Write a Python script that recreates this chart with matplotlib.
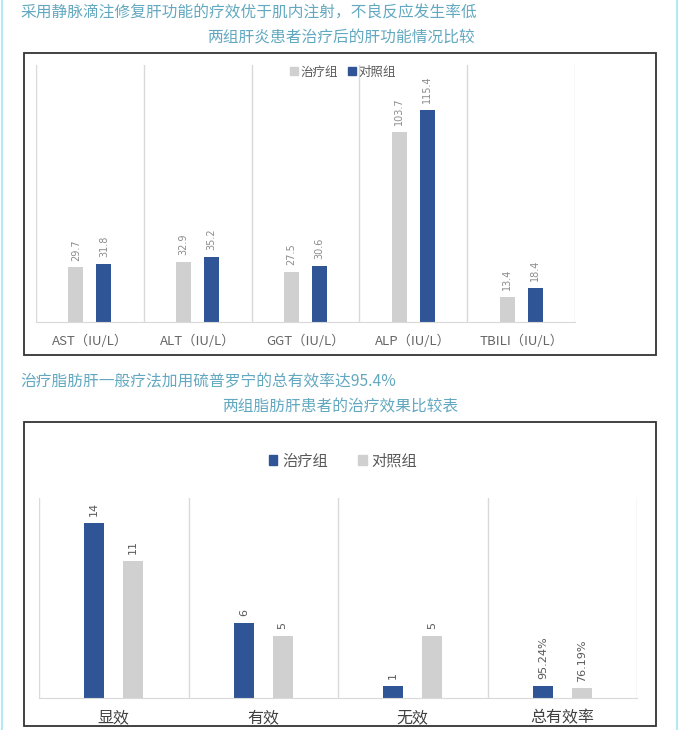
import matplotlib
matplotlib.use('Agg')
import matplotlib.pyplot as plt
from matplotlib.patches import Rectangle
from matplotlib.lines import Line2D

W, H = 681, 730
plt.rcParams['font.family'] = ['Noto Sans CJK SC', 'DejaVu Sans']

# ---------------- data ----------------
title1_a = "采用静脉滴注修复肝功能的疗效优于肌内注射，不良反应发生率低"
title1_b = "两组肝炎患者治疗后的肝功能情况比较"
liver_categories = ["AST（IU/L）", "ALT（IU/L）", "GGT（IU/L）", "ALP（IU/L）", "TBILI（IU/L）"]
liver_treat = [29.7, 32.9, 27.5, 103.7, 13.4]
liver_ctrl = [31.8, 35.2, 30.6, 115.4, 18.4]

title2_a = "治疗脂肪肝一般疗法加用硫普罗宁的总有效率达95.4%"
title2_b = "两组脂肪肝患者的治疗效果比较表"
fatty_categories = ["显效", "有效", "无效", "总有效率"]
fatty_treat = [14, 6, 1, 0.9524]
fatty_ctrl = [11, 5, 5, 0.7619]
fatty_treat_labels = ["14", "6", "1", "95.24%"]
fatty_ctrl_labels = ["11", "5", "5", "76.19%"]
series_names = ["治疗组", "对照组"]

BLUE = "#2F5597"
GRAY = "#D0D0D0"
TITLE_C = "#62A8C0"
GRID_C = "#D9D9D9"


def rect(x0, y0, x1, y1):
    return [x0 / W, 1 - y1 / H, (x1 - x0) / W, (y1 - y0) / H]


fig = plt.figure(figsize=(W / 100, H / 100), dpi=100)
fig.patch.set_facecolor("white")

# side cyan lines
fig.add_artist(Line2D([2 / W, 2 / W], [0, 1], color="#B5E8F0", lw=1.5, transform=fig.transFigure))
fig.add_artist(Line2D([677 / W, 677 / W], [0, 1], color="#B5E8F0", lw=1.5, transform=fig.transFigure))

# titles
tkw = dict(color=TITLE_C, fontsize=11.3, va="center", fontweight="light")
fig.text(20 / W, 1 - 13 / H, title1_a, ha="left", **tkw)
fig.text(341 / W, 1 - 38 / H, title1_b, ha="center", **tkw)
fig.text(20 / W, 1 - 382 / H, title2_a, ha="left", **tkw)
fig.text(340 / W, 1 - 407 / H, title2_b, ha="center", **tkw)

# boxes
for (x0, y0, x1, y1) in [(24, 53, 656, 355), (24, 422, 656, 726)]:
    fig.add_artist(Rectangle((x0 / W, 1 - y1 / H), (x1 - x0) / W, (y1 - y0) / H,
                             transform=fig.transFigure, fill=False, edgecolor="#333333", lw=1.3))


def style_axes(ax, n):
    for s in ["top", "left", "right"]:
        ax.spines[s].set_visible(False)
    ax.spines["bottom"].set_color(GRID_C)
    ax.set_xlim(-0.5, n - 0.5)
    ax.set_yticks([])
    for i in range(n + 1):
        ax.axvline(i - 0.5, color=GRID_C, lw=1, zorder=0)
    ax.tick_params(axis="x", length=0)
    ax.set_facecolor("none")


# ---------------- top chart ----------------
ax1 = fig.add_axes(rect(36, 65, 575, 322))
n1 = len(liver_categories)
style_axes(ax1, n1)
ax1.set_ylim(0, 140)
xs = list(range(n1))
b1 = ax1.bar([x - 0.13 for x in xs], liver_treat, width=0.14, color=GRAY, zorder=2)
b2 = ax1.bar([x + 0.13 for x in xs], liver_ctrl, width=0.14, color=BLUE, zorder=2)
for bars, vals in [(b1, liver_treat), (b2, liver_ctrl)]:
    for r, v in zip(bars, vals):
        ax1.annotate(f"{v:.1f}", (r.get_x() + r.get_width() / 2, v), xytext=(0, 5),
                     textcoords="offset points", rotation=90, ha="center", va="bottom",
                     fontsize=7, color="#8C8C8C", family="DejaVu Sans")
ax1.set_xticks(xs)
ax1.set_xticklabels(liver_categories, fontsize=9.5, color="#666666")
ax1.tick_params(axis="x", pad=9)
fig.legend([Rectangle((0, 0), 1, 1, color=GRAY), Rectangle((0, 0), 1, 1, color=BLUE)],
           series_names, loc="center", bbox_to_anchor=(343 / W, 1 - 72 / H), ncol=2,
           frameon=False, fontsize=9, handlelength=0.65, handleheight=0.65,
           handletextpad=0.2, columnspacing=0.8, labelcolor="#595959")

# ---------------- bottom chart ----------------
ax2 = fig.add_axes(rect(39, 498, 637, 698))
n2 = len(fatty_categories)
style_axes(ax2, n2)
ax2.set_ylim(0, 16)
xs2 = list(range(n2))
c1 = ax2.bar([x - 0.13 for x in xs2], fatty_treat, width=0.133, color=BLUE, zorder=2)
c2 = ax2.bar([x + 0.13 for x in xs2], fatty_ctrl, width=0.133, color=GRAY, zorder=2)
for bars, vals, labs in [(c1, fatty_treat, fatty_treat_labels), (c2, fatty_ctrl, fatty_ctrl_labels)]:
    for r, v, lab in zip(bars, vals, labs):
        ax2.annotate(lab, (r.get_x() + r.get_width() / 2, v), xytext=(0, 5),
                     textcoords="offset points", rotation=90, ha="center", va="bottom",
                     fontsize=8, color="#595959", family="DejaVu Sans")
ax2.set_xticks(xs2)
ax2.set_xticklabels(fatty_categories, fontsize=11.5, color="#404040")
ax2.tick_params(axis="x", pad=8)
fig.legend([Rectangle((0, 0), 1, 1, color=BLUE), Rectangle((0, 0), 1, 1, color=GRAY)],
           series_names, loc="center", bbox_to_anchor=(343 / W, 1 - 461 / H), ncol=2,
           frameon=False, fontsize=11, handlelength=0.55, handleheight=0.55,
           handletextpad=0.3, columnspacing=2.0, labelcolor="#595959")

fig.savefig("out.png", dpi=100, facecolor="white")
